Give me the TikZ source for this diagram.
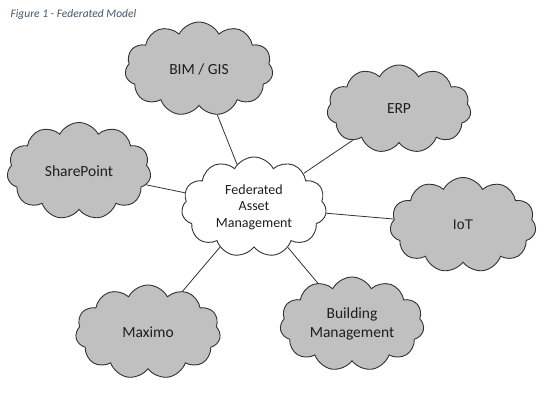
\documentclass[tikz,border=0pt]{standalone}
\usepackage{fontspec}
\setmainfont{Carlito}
\newfontfamily\arialfont{Liberation Sans}
\usetikzlibrary{shapes.symbols}
\definecolor{cloudgray}{RGB}{192,192,192}
\definecolor{titleblue}{RGB}{68,84,106}
\definecolor{edgedark}{RGB}{50,50,50}
\definecolor{textdark}{RGB}{30,30,30}
\tikzset{
  cloudbase/.style={cloud, cloud puffs=11, cloud puff arc=125, cloud ignores aspect,
    draw=edgedark, line width=0.9pt, inner sep=0pt, align=center, text=textdark,
    font=\fontsize{15.5}{18.5}\selectfont},
  graycloud/.style={cloudbase, fill=cloudgray},
  whitecloud/.style={cloudbase, fill=white, font=\fontsize{14}{16.5}\selectfont},
  link/.style={draw=edgedark, line width=0.8pt}
}
\begin{document}
\begin{tikzpicture}[x=1pt,y=-1pt]
\useasboundingbox (0,0) rectangle (551,411);
\node[anchor=west, text=titleblue, font=\fontsize{11.5}{14}\selectfont\itshape] (title) at (7,14) {Figure 1 - Federated Model};
\node[whitecloud, minimum width=145pt, minimum height=100pt] (fed) at (254,207) {Federated\\Asset\\Management};
\node[graycloud, minimum width=148pt, minimum height=94pt] (bim) at (199,69) {BIM / GIS};
\node[graycloud, minimum width=144pt, minimum height=88pt] (erp) at (399,109) {ERP};
\node[graycloud, minimum width=144pt, minimum height=97pt] (sp) at (79,171) {SharePoint};
\node[graycloud, minimum width=146pt, minimum height=95pt, font=\fontsize{14}{17}\selectfont\arialfont] (iot) at (463,225) {IoT};
\node[graycloud, minimum width=145pt, minimum height=94pt] (max) at (148,332) {Maximo};
\node[graycloud, minimum width=144pt, minimum height=94pt] (bm) at (352,324) {Building\\Management};
\draw[link] (bim) -- (fed);
\draw[link] (erp) -- (fed);
\draw[link] (sp) -- (fed);
\draw[link] (iot) -- (fed);
\draw[link] (max) -- (fed);
\draw[link] (bm) -- (fed);
\end{tikzpicture}
\end{document}
